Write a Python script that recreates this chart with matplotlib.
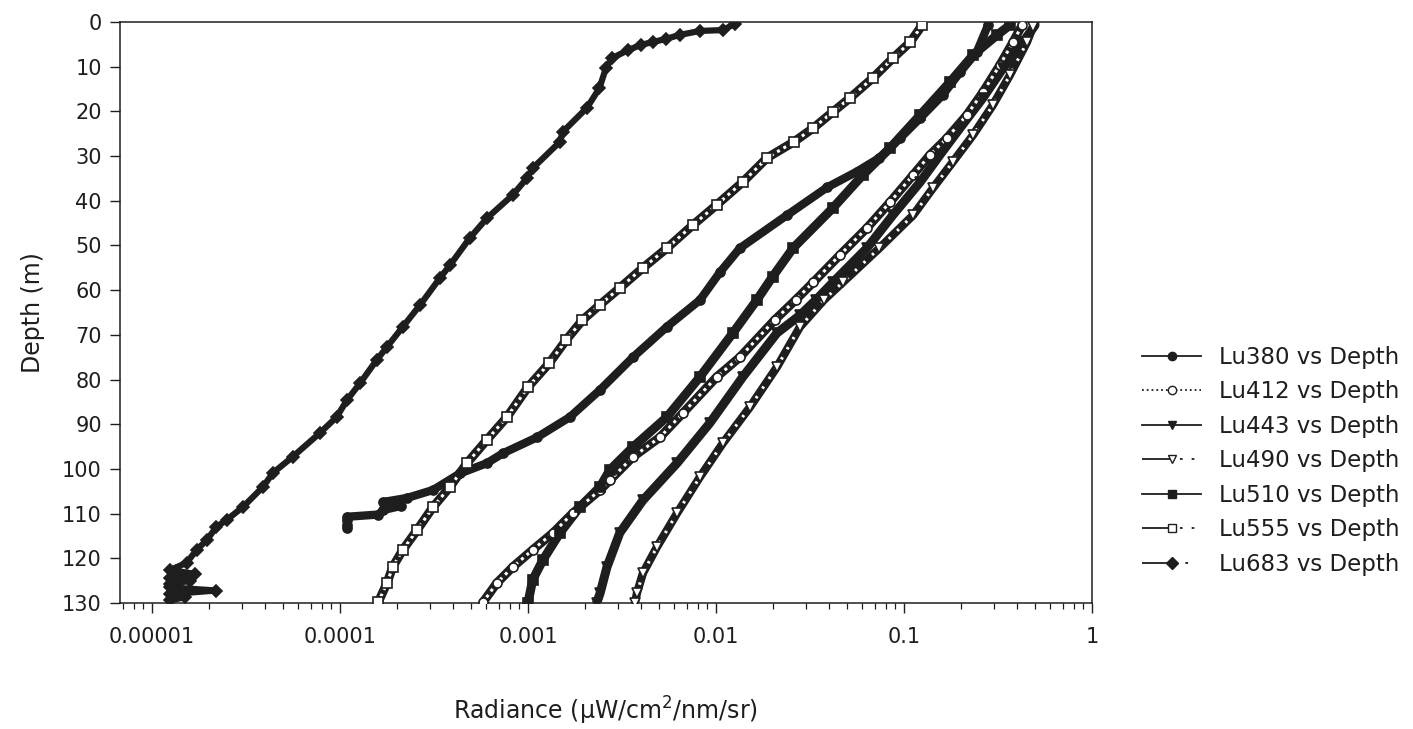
import matplotlib.pyplot as plt
from matplotlib.lines import Line2D
from matplotlib.ticker import FixedLocator, FixedFormatter, LogLocator, NullFormatter

# depth (m) / upwelling radiance (uW/cm2/nm/sr)
depth_380 = [0.7, 6.7, 11.2, 16.3, 21.5, 26.0, 30.4, 33.5, 37.0, 43.2, 50.6, 56.0, 62.2, 68.2, 75.0,
             82.3, 88.4, 92.9, 96.5, 98.7, 101.0, 104.7, 106.5, 107.4, 108.3, 109.2, 110.2, 110.7,
             111.5, 112.5, 113.3]
lu380 = [0.280, 0.244, 0.199, 0.161, 0.122, 0.0953, 0.0740, 0.0560, 0.0390, 0.0239, 0.0134, 0.0105,
         0.00822, 0.00548, 0.00362, 0.00242, 0.00167, 0.00112, 0.000736, 0.000605, 0.000435,
         0.000313, 0.000227, 0.000169, 0.00021, 0.00017, 0.00016, 0.000109, 0.000109, 0.000109,
         0.000109]

depth_412 = [0.7, 4.5, 9.6, 15.7, 20.8, 26.0, 29.8, 34.2, 40.3, 46.1, 52.1, 58.2, 62.2, 66.7, 75.0,
             79.4, 87.5, 92.9, 97.3, 102.5, 104.7, 109.9, 114.3, 118.1, 121.9, 125.5, 129.8]
lu412 = [0.425, 0.380, 0.324, 0.263, 0.216, 0.169, 0.137, 0.112, 0.0843, 0.0635, 0.0457, 0.0330,
         0.0265, 0.0205, 0.0134, 0.0101, 0.00667, 0.00504, 0.00362, 0.00273, 0.00242, 0.00173,
         0.00136, 0.00106, 0.000832, 0.000684, 0.000577]

depth_443 = [0.7, 4.5, 10.3, 17.0, 23.7, 29.8, 35.8, 43.2, 50.6, 58.2, 62.2, 65.6, 69.6, 79.4, 89.7,
             98.7, 107.0, 114.3, 122.0, 127.8, 130.0]
lu443 = [0.498, 0.430, 0.337, 0.263, 0.199, 0.155, 0.122, 0.0873, 0.0635, 0.042, 0.034, 0.028,
         0.0211, 0.0139, 0.00929, 0.00621, 0.00409, 0.00308, 0.00263, 0.00242, 0.00232]

depth_490 = [1.1, 4.5, 11.9, 18.6, 25.3, 31.3, 37.1, 43.2, 50.6, 58.2, 62.2, 68.2, 77.2, 86.1, 94.2,
             101.8, 109.9, 117.5, 123.3, 127.8, 130.0]
lu490 = [0.485, 0.451, 0.366, 0.297, 0.233, 0.182, 0.143, 0.112, 0.074, 0.0474, 0.0375, 0.0280,
         0.0211, 0.0152, 0.0109, 0.00822, 0.00621, 0.00485, 0.00409, 0.00380, 0.00371]

depth_510 = [0.7, 2.9, 7.4, 13.4, 20.8, 28.2, 34.2, 41.6, 50.6, 57.0, 62.2, 69.6, 79.4, 88.4, 95.1,
             100.2, 104.0, 108.5, 114.3, 120.4, 124.8, 130.0]
lu510 = [0.366, 0.313, 0.233, 0.176, 0.122, 0.0843, 0.0605, 0.0419, 0.0257, 0.0200, 0.0165, 0.0123,
         0.00822, 0.00548, 0.00362, 0.00273, 0.00242, 0.00189, 0.00148, 0.00120, 0.00106, 0.00100]

depth_555 = [0.7, 4.5, 8.1, 12.5, 17.0, 20.1, 23.7, 26.8, 30.4, 35.8, 40.9, 45.4, 50.6, 55.0, 59.5,
             63.3, 66.7, 71.1, 76.3, 81.7, 88.4, 93.5, 98.7, 104.0, 108.5, 113.7, 118.1, 121.9,
             125.5, 129.8]
lu555 = [0.125, 0.108, 0.0873, 0.0684, 0.0516, 0.0419, 0.0330, 0.0260, 0.0187, 0.0139, 0.0101,
         0.00755, 0.00549, 0.00409, 0.00308, 0.00241, 0.00195, 0.00160, 0.00130, 0.00100,
         0.000773, 0.000605, 0.000474, 0.000385, 0.000313, 0.000257, 0.000216, 0.000191,
         0.000178, 0.000160]

depth_683 = [0.4, 1.8, 2.0, 2.9, 3.8, 4.5, 5.1, 6.3, 8.1, 10.3, 14.8, 19.2, 24.6, 26.8, 32.7, 34.9,
             38.7, 43.9, 48.3, 54.4, 57.3, 63.3, 68.2, 72.7, 75.6, 80.8, 84.6, 88.4, 92.0, 97.3,
             100.9, 104.0, 108.5, 111.4, 113.0, 115.9, 118.1, 121.0, 122.6, 123.5, 124.3, 125.0,
             125.8, 126.5, 127.2, 128.0, 128.7, 129.4]
lu683 = [0.0126, 0.0109, 0.0082, 0.0064, 0.0054, 0.0046, 0.0040, 0.0034, 0.0028, 0.0026, 0.0024,
         0.00206, 0.00153, 0.00148, 0.00106, 0.00099, 0.00083, 0.000605, 0.000491, 0.000385,
         0.00034, 0.000267, 0.000216, 0.000178, 0.000157, 0.000128, 0.000109, 9.6e-5, 7.8e-5,
         5.6e-5, 4.4e-5, 3.9e-5, 3.05e-5, 2.5e-5, 2.2e-5, 1.96e-5, 1.73e-5, 1.53e-5, 1.25e-5,
         1.7e-5, 1.25e-5, 1.6e-5, 1.25e-5, 1.25e-5, 2.2e-5, 1.25e-5, 1.5e-5, 1.25e-5]

labels = ['Lu380 vs Depth', 'Lu412 vs Depth', 'Lu443 vs Depth', 'Lu490 vs Depth',
          'Lu510 vs Depth', 'Lu555 vs Depth', 'Lu683 vs Depth']
x_ticks = [0.00001, 0.0001, 0.001, 0.01, 0.1, 1]
x_tick_labels = ['0.00001', '0.0001', '0.001', '0.01', '0.1', '1']
y_ticks = [0, 10, 20, 30, 40, 50, 60, 70, 80, 90, 100, 110, 120, 130]

ink = '#1e1e1e'
dashdot2 = (0, (16, 5, 1.5, 5, 1.5, 30))
dashdot1 = (0, (16, 8, 1.5, 30))

# (x, y, marker, open?, band width, inner dash, legend linestyle)
series = [
    (lu683, depth_683, 'D', False, 4.5, None, dashdot1),
    (lu555, depth_555, 's', True, 6.5, (1.0, 1.4), dashdot2),
    (lu412, depth_412, 'o', True, 6.5, (1.0, 1.4), ':'),
    (lu380, depth_380, 'o', False, 6.0, None, '-'),
    (lu510, depth_510, 's', False, 6.5, None, '-'),
    (lu443, depth_443, 'v', False, 6.5, None, '-'),
    (lu490, depth_490, 'v', True, 6.0, (0.8, 3.0), dashdot2),
]
order = [3, 2, 5, 6, 4, 1, 0]  # legend order -> 380..683

fig = plt.figure(figsize=(14.13, 7.29), dpi=100)
ax = fig.add_axes([0.0849, 0.1728, 0.6879, 0.797])

for x, y, mk, hollow, bw, inner, _ in series:
    ax.plot(x, y, color=ink, lw=bw, solid_capstyle='round', solid_joinstyle='round', zorder=2)
    if hollow:
        ax.plot(x, y, color='white', lw=2.2, ls=(0, inner), zorder=3)
    ax.plot(x, y, ls='none', marker=mk, ms=6.5, mew=1.2, mec=ink,
            mfc='white' if hollow else ink, zorder=4)

ax.set_xscale('log')
ax.set_xlim(10 ** -5.17, 1)
ax.set_ylim(130, 0)
ax.xaxis.set_major_locator(FixedLocator(x_ticks))
ax.xaxis.set_major_formatter(FixedFormatter(x_tick_labels))
ax.xaxis.set_minor_locator(LogLocator(base=10, subs=range(2, 10)))
ax.xaxis.set_minor_formatter(NullFormatter())
ax.set_yticks(y_ticks)

for s in ax.spines.values():
    s.set_color(ink)
    s.set_linewidth(1.1)
ax.tick_params(axis='both', which='major', direction='out', length=7, width=1.0,
               color=ink, labelcolor=ink, labelsize=15)
ax.tick_params(axis='x', which='minor', direction='out', length=4, width=0.9, color=ink)
ax.tick_params(axis='x', pad=10)
ax.tick_params(axis='y', pad=6)

ax.set_xlabel('Radiance (\u03bcW/cm$^2$/nm/sr)', fontsize=17, color=ink, labelpad=35)
ax.set_ylabel('Depth (m)', fontsize=17, color=ink, labelpad=12)

handles = []
for i in order:
    x, y, mk, hollow, bw, inner, ls = series[i]
    handles.append(Line2D([], [], color=ink, lw=1.3, ls=ls, marker=mk, ms=6,
                          mec=ink, mfc='white' if hollow else ink))
fig.legend(handles, labels, loc='center left', bbox_to_anchor=(0.8, 0.368),
           frameon=False, fontsize=16.5, handlelength=2.6, handletextpad=0.75,
           labelspacing=0.5, borderpad=0, labelcolor=ink)

fig.savefig('out.png', dpi=100)
